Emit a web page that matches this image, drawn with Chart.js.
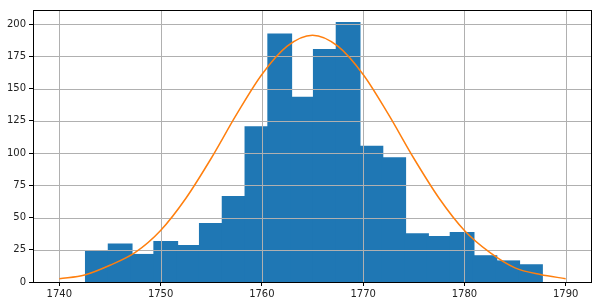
<!DOCTYPE html>
<html>
<head>
<meta charset="utf-8">
<script src="https://cdn.jsdelivr.net/npm/chart.js@4"></script>
<style>
  html, body { margin: 0; padding: 0; background: #fff; }
  #wrap { width: 602px; height: 306px; }
</style>
</head>
<body>
<div id="wrap"><canvas id="hist"></canvas></div>
<script>
// histogram: 20 bins between these edges
const binFirst = 1742.63;
const binLast = 1787.65;
const counts = [24, 29, 21, 31, 28, 45, 66, 120, 192, 143, 180, 201, 105, 96, 37, 35, 38, 20, 16, 13];

// fitted curve
const curveYears = [1740, 1742.5, 1745, 1747.5, 1750, 1752.5, 1755, 1757.5, 1760, 1762.5, 1765,
                    1767.5, 1770, 1772.5, 1775, 1777.5, 1780, 1782.5, 1785, 1787.5, 1790];
const curveValues = [2.5, 5.5, 13, 23, 40, 65, 96, 130, 161, 183, 191.5,
                     183, 161, 130, 96, 65, 40, 23, 11, 5.8, 2.6];

const xTicks = [1740, 1750, 1760, 1770, 1780, 1790];
const yTicks = [0, 25, 50, 75, 100, 125, 150, 175, 200];

const binWidth = (binLast - binFirst) / counts.length;
const barPoints = counts.map((c, i) => ({ x: binFirst + (i + 0.5) * binWidth, y: c }));
const curvePoints = curveYears.map((x, i) => ({ x: x, y: curveValues[i] }));

// grid goes over the bars but under the curve, like matplotlib
const gridOverBars = {
    id: 'gridOverBars',
    afterDatasetDraw(chart, args) {
        if (args.index !== 0) return;
        const { ctx, chartArea: a, scales } = chart;
        ctx.save();
        ctx.strokeStyle = '#b0b0b0';
        ctx.lineWidth = 1;
        ctx.beginPath();
        xTicks.forEach(v => {
            const px = Math.round(scales.x.getPixelForValue(v)) + 0.5;
            ctx.moveTo(px, a.top);
            ctx.lineTo(px, a.bottom);
        });
        yTicks.forEach(v => {
            const py = Math.round(scales.y.getPixelForValue(v)) + 0.5;
            ctx.moveTo(a.left, py);
            ctx.lineTo(a.right, py);
        });
        ctx.stroke();
        ctx.restore();
    }
};

const frame = {
    id: 'frame',
    afterDraw(chart) {
        const { ctx, chartArea: a } = chart;
        ctx.save();
        ctx.strokeStyle = '#000';
        ctx.lineWidth = 1;
        ctx.strokeRect(Math.round(a.left) + 0.5, Math.round(a.top) + 0.5,
            Math.round(a.right - a.left), Math.round(a.bottom - a.top));
        ctx.restore();
    }
};

const ctx = document.getElementById('hist').getContext('2d');
const chart = new Chart(ctx, {
    type: 'bar',
    data: {
        datasets: [{
            type: 'bar',
            data: barPoints,
            backgroundColor: '#1f77b4',
            borderWidth: 0,
            barPercentage: 1,
            categoryPercentage: 1,
            inflateAmount: 1,   // overlap neighbours so no seams show between bins
            order: 2
        }, {
            type: 'line',
            data: curvePoints,
            borderColor: '#ff7f0e',
            borderWidth: 1.5,
            pointRadius: 0,
            fill: false,
            cubicInterpolationMode: 'monotone',
            order: 1
        }]
    },
    options: {
        responsive: true,
        maintainAspectRatio: false,
        animation: false,
        layout: { padding: { top: 10, right: 11, left: 0, bottom: 0 } },
        plugins: { legend: { display: false }, tooltip: { enabled: false } },
        scales: {
            x: {
                type: 'linear',
                min: 1737.4,
                max: 1792.5,
                offset: false,
                grid: { offset: false, drawOnChartArea: false, drawTicks: true, tickLength: 4, tickColor: '#000', color: 'rgba(0,0,0,0)' },
                border: { display: false },
                afterBuildTicks: s => { s.ticks = xTicks.map(v => ({ value: v })); },
                afterFit: s => { s.height = 24; },
                ticks: {
                    autoSkip: false,
                    maxRotation: 0,
                    padding: 2,
                    color: '#222',
                    font: { family: 'DejaVu Sans', size: 10 },
                    callback: v => String(v)
                }
            },
            y: {
                min: 0,
                max: 211,
                grid: { drawOnChartArea: false, drawTicks: true, tickLength: 4, tickColor: '#000', color: 'rgba(0,0,0,0)' },
                border: { display: false },
                afterBuildTicks: s => { s.ticks = yTicks.map(v => ({ value: v })); },
                afterFit: s => { s.width = 33; },
                ticks: {
                    padding: 3,
                    color: '#222',
                    font: { family: 'DejaVu Sans', size: 10 },
                    callback: v => String(v)
                }
            }
        }
    },
    plugins: [gridOverBars, frame]
});
</script>
</body>
</html>
